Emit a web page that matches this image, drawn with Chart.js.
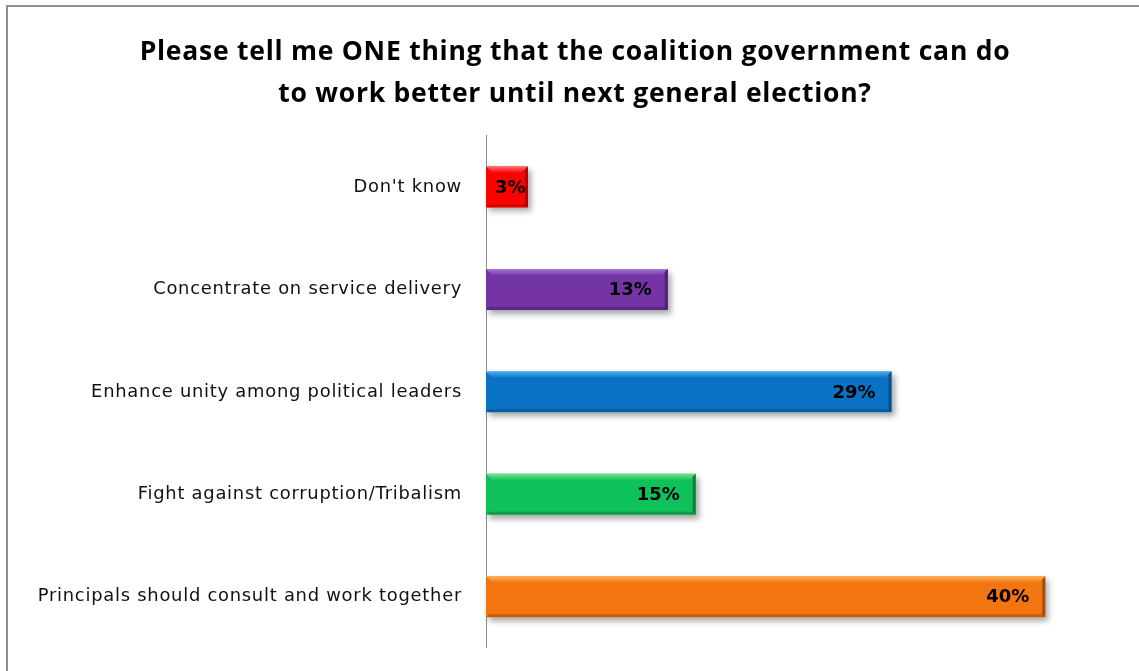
<!DOCTYPE html>
<html>
<head>
<meta charset="utf-8">
<script src="https://cdn.jsdelivr.net/npm/chart.js@4.4.1/dist/chart.umd.min.js"></script>
<style>
  html, body { margin: 0; padding: 0; background: #fff; overflow: hidden; }
  .frame { position: absolute; left: 6px; top: 5px; width: 1400px; height: 900px; border: 2px solid #8e8e8e; }
  #chart { position: absolute; left: 0; top: 0; }
</style>
</head>
<body>
<div class="frame"></div>
<canvas id="chart" width="1139" height="671"></canvas>
<script>
const answers = [
  "Don't know",
  'Concentrate on service delivery',
  'Enhance unity among political leaders',
  'Fight against corruption/Tribalism',
  'Principals should consult and work together'
];
const shares = [3, 13, 29, 15, 40];
const barColors = ['#ff0000', '#7434a6', '#0a72c4', '#0fc15a', '#f2750f'];
const topColors = ['#ff6a6a', '#a57ad2', '#4aaef2', '#6ee08e', '#ffb25a'];
const edgeColors = ['#b30000', '#4e1f74', '#06508c', '#08803b', '#a44d06'];

// slightly loose text like the old office renderer
const textSpacing = {
  id: 'textSpacing',
  beforeDraw(chart) { chart.ctx.letterSpacing = '0.75px'; },
  afterDraw(chart) { chart.ctx.letterSpacing = '0px'; }
};

// shadow under every bar, drawn before the bars themselves
const barShadow = {
  id: 'barShadow',
  beforeDatasetsDraw(chart) {
    const ctx = chart.ctx;
    const meta = chart.getDatasetMeta(0);
    ctx.save();
    ctx.shadowColor = 'rgba(0,0,0,0.35)';
    ctx.shadowBlur = 6;
    ctx.shadowOffsetX = 3;
    ctx.shadowOffsetY = 4;
    ctx.fillStyle = '#fff';
    meta.data.forEach((bar) => {
      const h = bar.height;
      ctx.fillRect(bar.base, bar.y - h / 2, bar.x - bar.base, h);
    });
    ctx.restore();
  }
};

// bevel strips and the value labels on top of the bars
const barBevel = {
  id: 'barBevel',
  afterDatasetsDraw(chart) {
    const ctx = chart.ctx;
    const meta = chart.getDatasetMeta(0);
    ctx.save();
    ctx.letterSpacing = '0px';
    meta.data.forEach((bar, i) => {
      const h = bar.height;
      const top = bar.y - h / 2;
      const left = bar.base;
      const w = bar.x - bar.base;

      const g = ctx.createLinearGradient(0, top, 0, top + 7);
      g.addColorStop(0, topColors[i]);
      g.addColorStop(1, barColors[i]);
      ctx.fillStyle = g;
      ctx.beginPath();
      ctx.moveTo(left, top);
      ctx.lineTo(left + w, top);
      ctx.lineTo(left + w - 6, top + 6);
      ctx.lineTo(left + 6, top + 6);
      ctx.closePath();
      ctx.fill();

      ctx.fillStyle = edgeColors[i];
      ctx.beginPath();
      ctx.moveTo(left + w, top);
      ctx.lineTo(left + w, top + h);
      ctx.lineTo(left + w - 3, top + h - 3);
      ctx.lineTo(left + w - 3, top + 3);
      ctx.closePath();
      ctx.fill();

      ctx.globalAlpha = 0.6;
      ctx.beginPath();
      ctx.moveTo(left, top + h);
      ctx.lineTo(left + w, top + h);
      ctx.lineTo(left + w - 3, top + h - 3);
      ctx.lineTo(left + 3, top + h - 3);
      ctx.closePath();
      ctx.fill();
      ctx.globalAlpha = 1;

      const text = shares[i] + '%';
      ctx.font = 'bold 18px "DejaVu Sans"';
      ctx.fillStyle = '#000';
      ctx.textBaseline = 'middle';
      ctx.textAlign = 'right';
      const tw = ctx.measureText(text).width;
      const right = Math.max(bar.x - 16, bar.base + 9 + tw);
      ctx.fillText(text, right, bar.y + 1);
    });
    ctx.restore();
  }
};

new Chart(document.getElementById('chart'), {
  type: 'bar',
  data: {
    labels: answers,
    datasets: [{
      data: shares,
      backgroundColor: barColors,
      borderWidth: 0,
      barPercentage: 0.4,
      categoryPercentage: 1
    }]
  },
  options: {
    indexAxis: 'y',
    responsive: false,
    animation: false,
    layout: { padding: { left: 11, right: 0, top: 0, bottom: 23 } },
    plugins: {
      legend: { display: false },
      tooltip: { enabled: false },
      title: {
        display: true,
        text: ['Please tell me ONE thing that the coalition government can do',
               'to work better until next general election?'],
        color: '#000',
        font: { family: 'Open Sans', size: 26.5, weight: 'bold', lineHeight: 1.58 },
        padding: { top: 32, bottom: 20 }
      }
    },
    scales: {
      x: { display: false, min: 0, max: 46.7 },
      y: {
        grid: { display: true, drawTicks: true, tickLength: 21, color: 'rgba(0,0,0,0)', lineWidth: 0 },
        border: { display: true, color: '#8c8c8c', width: 1 },
        ticks: {
          color: '#111',
          padding: 3,
          font: { family: 'DejaVu Sans', size: 17.9 }
        },
        afterFit(scale) { scale.width = 475; }
      }
    }
  },
  plugins: [textSpacing, barShadow, barBevel]
});
</script>
</body>
</html>
